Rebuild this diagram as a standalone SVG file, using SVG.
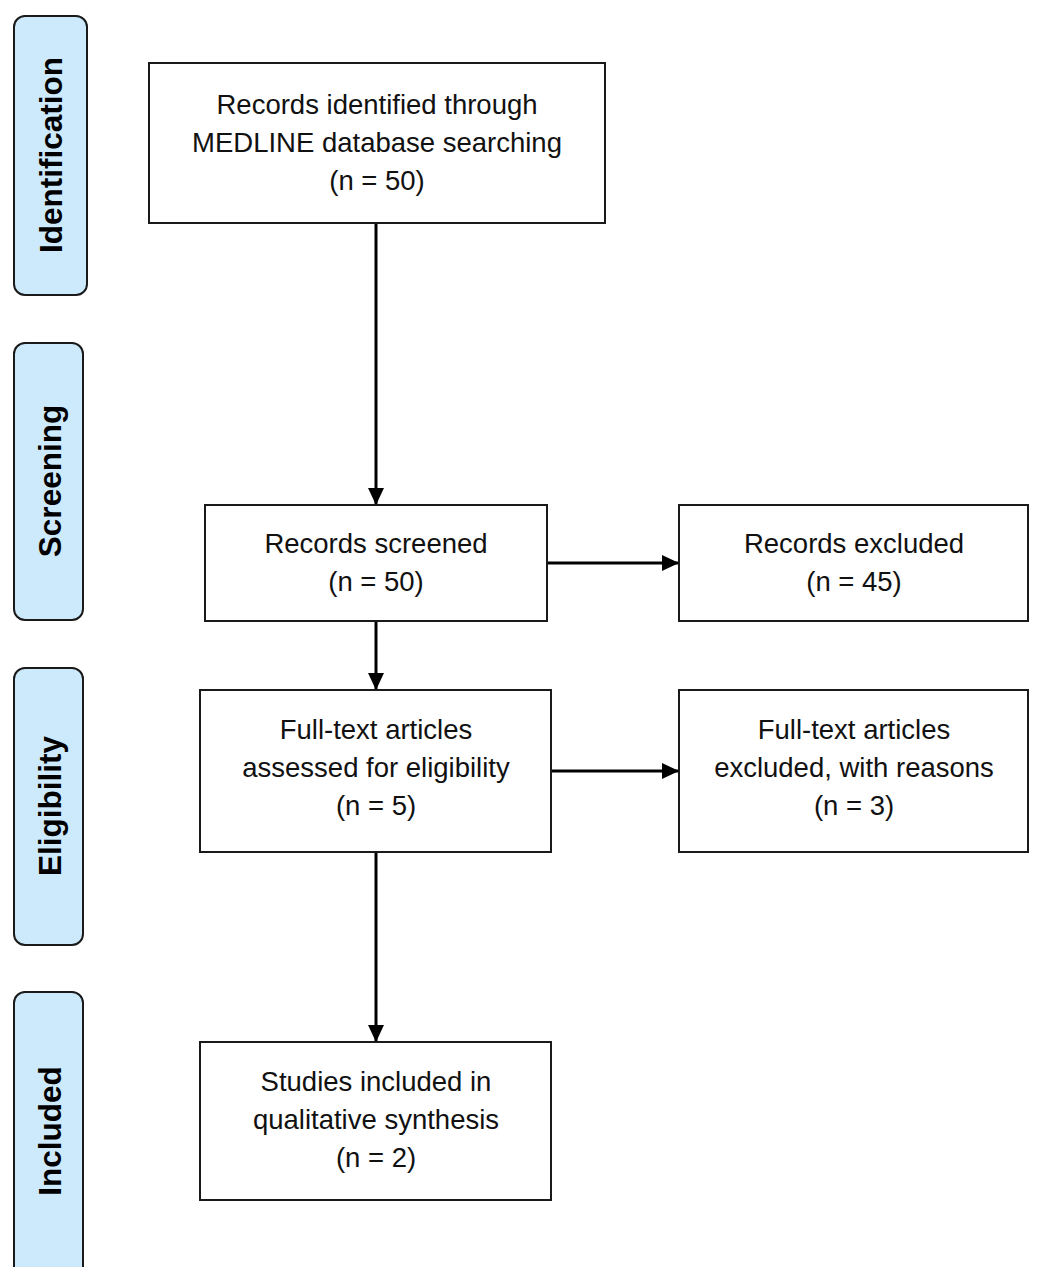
<svg xmlns="http://www.w3.org/2000/svg" width="1040" height="1267" viewBox="0 0 1040 1267">
<defs>
<style>
.side{fill:#cdeafc;stroke:#1a1a1a;stroke-width:2}
.box{fill:#fff;stroke:#1a1a1a;stroke-width:2}
.st{font-family:"Liberation Sans",Arial,sans-serif;font-weight:bold;font-size:31.5px;fill:#000;text-anchor:middle}
.bt{font-family:"Liberation Sans",Arial,sans-serif;font-size:27.5px;fill:#111;text-anchor:middle}
.con{stroke:#000;stroke-width:3;fill:none;marker-end:url(#ah)}
</style>
<marker id="ah" markerWidth="17" markerHeight="16" refX="17" refY="8" orient="auto" markerUnits="userSpaceOnUse">
<path d="M0,0 L17,8 L0,16 Z" fill="#000"/>
</marker>
</defs>
<rect width="1040" height="1267" fill="#fff"/>
<g id="side-identification"><rect class="side" x="14" y="16" width="73" height="279" rx="11"/><text class="st" transform="translate(62,155) rotate(-90)">Identification</text></g>
<g id="side-screening"><rect class="side" x="14" y="343" width="69" height="277" rx="11"/><text class="st" transform="translate(61,481) rotate(-90)">Screening</text></g>
<g id="side-eligibility"><rect class="side" x="14" y="668" width="69" height="277" rx="11"/><text class="st" transform="translate(61,806) rotate(-90)">Eligibility</text></g>
<g id="side-included"><rect class="side" x="14" y="992" width="69" height="290" rx="11"/><text class="st" transform="translate(61,1131) rotate(-90)">Included</text></g>
<g id="connectors">
<line class="con" x1="376" y1="223" x2="376" y2="505"/>
<line class="con" x1="547" y1="563" x2="679" y2="563"/>
<line class="con" x1="376" y1="621" x2="376" y2="690"/>
<line class="con" x1="551" y1="771" x2="679" y2="771"/>
<line class="con" x1="376" y1="852" x2="376" y2="1042"/>
</g>
<g id="n-identified"><rect class="box" x="149" y="63" width="456" height="160"/><text class="bt" x="377" y="114">Records identified through</text><text class="bt" x="377" y="152">MEDLINE database searching</text><text class="bt" x="377" y="190">(n = 50)</text></g>
<g id="n-screened"><rect class="box" x="205" y="505" width="342" height="116"/><text class="bt" x="376" y="553">Records screened</text><text class="bt" x="376" y="591">(n = 50)</text></g>
<g id="n-excluded"><rect class="box" x="679" y="505" width="349" height="116"/><text class="bt" x="854" y="553">Records excluded</text><text class="bt" x="854" y="591">(n = 45)</text></g>
<g id="n-fulltext"><rect class="box" x="200" y="690" width="351" height="162"/><text class="bt" x="376" y="739">Full-text articles</text><text class="bt" x="376" y="777">assessed for eligibility</text><text class="bt" x="376" y="815">(n = 5)</text></g>
<g id="n-ft-excluded"><rect class="box" x="679" y="690" width="349" height="162"/><text class="bt" x="854" y="739">Full-text articles</text><text class="bt" x="854" y="777">excluded, with reasons</text><text class="bt" x="854" y="815">(n = 3)</text></g>
<g id="n-included"><rect class="box" x="200" y="1042" width="351" height="158"/><text class="bt" x="376" y="1091">Studies included in</text><text class="bt" x="376" y="1129">qualitative synthesis</text><text class="bt" x="376" y="1167">(n = 2)</text></g>
</svg>
